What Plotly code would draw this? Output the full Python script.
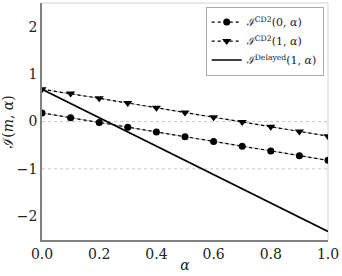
import plotly.graph_objects as go

alpha = [0.0, 0.1, 0.2, 0.3, 0.4, 0.5, 0.6, 0.7, 0.8, 0.9, 1.0]
cd2_m0 = [0.18, 0.08, -0.02, -0.12, -0.22, -0.32, -0.42, -0.52, -0.62, -0.72, -0.82]
cd2_m1 = [0.68, 0.59, 0.49, 0.39, 0.29, 0.19, 0.09, -0.01, -0.11, -0.21, -0.31]
delayed_alpha = [0.0, 1.0]
delayed_m1 = [0.68, -2.32]

xticks = [0.0, 0.2, 0.4, 0.6, 0.8, 1.0]
xticklabels = ["0.0", "0.2", "0.4", "0.6", "0.8", "1.0"]
yticks = [-2, -1, 0, 1, 2]
yticklabels = ["−2", "−1", "0", "1", "2"]
grid_y = [0, -1]

FONT = "DejaVu Serif"

fig = go.Figure()

# grey underlay for dotted series
for ys in (cd2_m0, cd2_m1):
    fig.add_trace(go.Scatter(x=alpha, y=ys, mode="lines", showlegend=False,
                             hoverinfo="skip",
                             line=dict(color="#b0b0b0", width=1)))

fig.add_trace(go.Scatter(x=alpha, y=cd2_m0, mode="lines+markers",
                         name="ℐ<sup>CD2</sup>(0, <i>α</i>)",
                         line=dict(color="black", width=1.2, dash="dot"),
                         marker=dict(symbol="circle", size=7, color="black")))
fig.add_trace(go.Scatter(x=alpha, y=cd2_m1, mode="lines+markers",
                         name="ℐ<sup>CD2</sup>(1, <i>α</i>)",
                         line=dict(color="black", width=1.2, dash="dot"),
                         marker=dict(symbol="triangle-down", size=8, color="black")))
fig.add_trace(go.Scatter(x=delayed_alpha, y=delayed_m1, mode="lines",
                         name="ℐ<sup>Delayed</sup>(1, <i>α</i>)",
                         line=dict(color="black", width=1.6)))

shapes = []
for gy in grid_y:
    shapes.append(dict(type="line", xref="paper", yref="y", x0=0, x1=1, y0=gy, y1=gy,
                       line=dict(color="#c8c8c8", width=1, dash="dot"), layer="below"))
# light top and right frame
shapes.append(dict(type="line", xref="paper", yref="paper", x0=0, x1=1, y0=1, y1=1,
                   line=dict(color="#e2e2e2", width=1.5), layer="below"))
shapes.append(dict(type="line", xref="paper", yref="paper", x0=1, x1=1, y0=0, y1=1,
                   line=dict(color="#e2e2e2", width=1.5), layer="below"))

fig.update_layout(
    width=342, height=276,
    margin=dict(l=42, r=14, t=3, b=36, pad=0),
    paper_bgcolor="white", plot_bgcolor="white",
    font=dict(family=FONT, size=14, color="#222"),
    shapes=shapes,
    showlegend=True,
    legend=dict(x=0.985, y=0.985, xanchor="right", yanchor="top",
                bgcolor="white", bordercolor="#aaaaaa", borderwidth=1,
                font=dict(family=FONT, size=11, color="#222"),
                itemwidth=30, tracegroupgap=6),
    xaxis=dict(range=[0, 1], tickvals=xticks, ticktext=xticklabels,
               showgrid=False, zeroline=False, showline=True, automargin=False,
               linecolor="#808080", linewidth=1.5, ticks="",
               title=dict(text="<i>α</i>", standoff=0, font=dict(size=14))),
    yaxis=dict(range=[-2.5, 2.5], tickvals=yticks, ticktext=yticklabels,
               showgrid=False, zeroline=False, showline=True, automargin=False,
               linecolor="#808080", linewidth=1.5, ticks="",
               title=dict(text="ℐ(<i>m</i>, <i>α</i>)", standoff=0, font=dict(size=14))),
)

fig.write_html("out.html", config={"displayModeBar": False},
               post_script="document.body.style.margin='0';document.body.style.padding='0';")
